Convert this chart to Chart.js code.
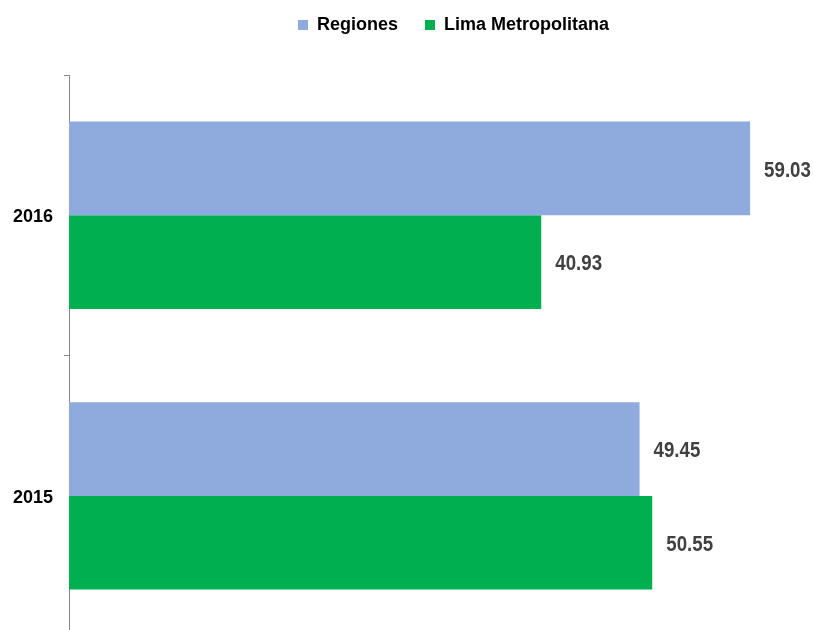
<!DOCTYPE html>
<html>
<head>
<meta charset="utf-8">
<script src="https://cdn.jsdelivr.net/npm/chart.js@4.4.1/dist/chart.umd.min.js"></script>
<style>
html, body { margin: 0; padding: 0; overflow: hidden; background: #ffffff; width: 813px; height: 630px; }
#wrap { position: absolute; left: 0; top: 0; width: 838px; height: 658px; }
</style>
</head>
<body>
<div id="wrap"><canvas id="c"></canvas></div>
<script>
const categories = ['2016', '2015'];
const seriesNames = ['Regiones', 'Lima Metropolitana'];
const regiones = [59.03, 49.45];
const limaMetropolitana = [40.93, 50.55];
const seriesColors = ['#8FAADC', '#00B050'];

const FONT = '"Liberation Sans", Arial, Helvetica, sans-serif';

const valueLabels = {
  id: 'valueLabels',
  afterDatasetsDraw(chart) {
    const ctx = chart.ctx;
    chart.data.datasets.forEach((ds, i) => {
      chart.getDatasetMeta(i).data.forEach((bar, j) => {
        ctx.save();
        ctx.font = 'bold 22px ' + FONT;
        ctx.fillStyle = '#404040';
        ctx.textAlign = 'left';
        ctx.textBaseline = 'middle';
        ctx.translate(bar.x + 14, bar.y + 2);
        ctx.scale(0.85, 1);
        ctx.fillText(ds.data[j].toFixed(2), 0, 0);
        ctx.restore();
      });
    });
  }
};

const legendHeight = {
  id: 'legendHeight',
  beforeInit(chart) {
    const origFit = chart.legend.fit;
    chart.legend.fit = function () {
      origFit.bind(chart.legend)();
      this.height = 86;
    };
  }
};

new Chart(document.getElementById('c'), {
  type: 'bar',
  data: {
    labels: categories,
    datasets: [
      { label: seriesNames[0], data: regiones, backgroundColor: seriesColors[0], borderWidth: 0 },
      { label: seriesNames[1], data: limaMetropolitana, backgroundColor: seriesColors[1], borderWidth: 0 }
    ]
  },
  options: {
    indexAxis: 'y',
    responsive: true,
    maintainAspectRatio: false,
    animation: false,
    devicePixelRatio: 1,
    layout: { padding: { top: -11, left: 0, right: 0, bottom: 0 } },
    datasets: { bar: { barPercentage: 1, categoryPercentage: 0.668 } },
    scales: {
      x: { display: false, min: 0, max: 66.65 },
      y: {
        afterFit(scale) { scale.width = 69; },
        border: { display: true, color: '#868686', width: 1 },
        grid: { display: true, drawOnChartArea: false, drawTicks: true, tickLength: 5, color: '#868686', offset: true },
        ticks: { color: '#000000', padding: 11, labelOffset: 2, font: { family: FONT, size: 18, weight: 'bold' } }
      }
    },
    plugins: {
      legend: {
        position: 'top',
        fullSize: false,
        align: 'center',
        labels: {
          boxWidth: 10,
          boxHeight: 10,
          padding: 27,
          color: '#000000',
          font: { family: FONT, size: 18, weight: 'bold' }
        }
      },
      tooltip: { enabled: false }
    }
  },
  plugins: [valueLabels, legendHeight]
});
</script>
</body>
</html>
